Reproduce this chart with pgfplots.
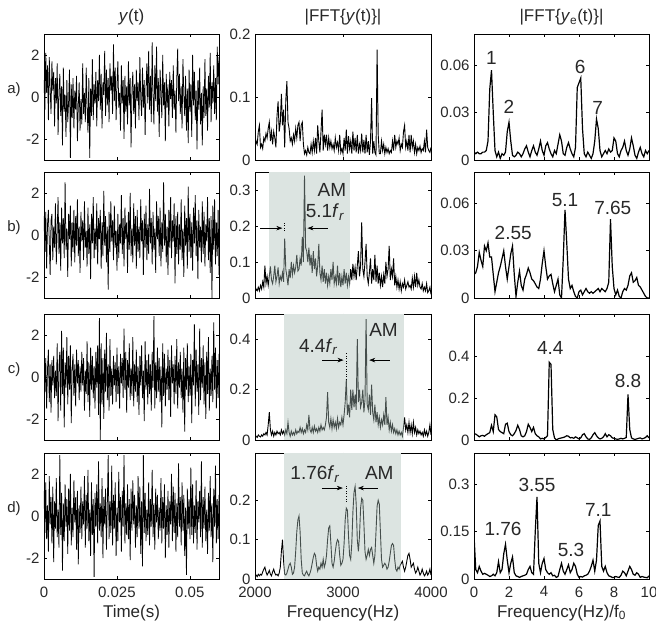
\documentclass[border=0pt]{standalone}
\usepackage{fontspec}
\setmainfont{Liberation Sans}
\usepackage{pgfplots}
\pgfplotsset{compat=1.18}
\usepackage{pgfplotstable}
\usetikzlibrary{arrows.meta}

\newcommand{\fsz}{\fontsize{15pt}{17pt}\selectfont}
\newcommand{\lsz}{\fontsize{17pt}{19pt}\selectfont}
\newcommand{\asz}{\fontsize{19pt}{21pt}\selectfont}
\definecolor{shadebase}{RGB}{231,230,229}
\definecolor{shadetop}{RGB}{200,226,218}
\definecolor{txt}{RGB}{40,40,40}

% time signals y(t), 200 samples over 0..0.06 s
\pgfplotstableread[row sep=\\]{y\\
0.8\\-0.6\\2.1\\0.2\\1.5\\-1.1\\1.9\\0.4\\-0.8\\1.7\\0.3\\1.2\\-1.4\\0.9\\-0.3\\1.6\\-1.8\\0.2\\1.1\\-0.9\\
0.5\\-2.3\\1.4\\-0.7\\0.1\\-1.9\\0.8\\-1.2\\-0.2\\1.3\\-2.9\\0.6\\-1.0\\0.9\\-1.5\\0.3\\-0.6\\1.0\\-2.1\\-0.4\\
0.7\\-1.6\\-0.1\\-1.3\\1.6\\-0.8\\0.2\\-1.2\\1.4\\-0.5\\-1.7\\0.9\\-2.9\\0.4\\-0.9\\1.8\\-1.1\\0.6\\-0.3\\1.2\\
-1.4\\0.8\\-0.2\\2.0\\-0.6\\1.1\\-1.5\\0.7\\0.1\\2.2\\-0.9\\1.3\\-0.4\\0.9\\-1.2\\1.6\\0.3\\1.0\\-0.8\\2.5\\
-0.2\\1.4\\-1.1\\0.6\\1.7\\-0.5\\0.2\\-1.6\\1.5\\-0.3\\0.8\\-2.0\\1.0\\-0.7\\0.5\\-1.3\\1.7\\-0.4\\0.9\\-2.4\\
0.3\\1.2\\-0.8\\0.6\\-1.5\\1.3\\-0.2\\0.7\\-1.1\\1.9\\0.0\\-0.9\\1.4\\-0.5\\0.8\\-1.8\\0.4\\1.6\\-0.3\\2.2\\
-0.6\\1.0\\-1.2\\2.6\\0.1\\-1.3\\1.5\\-0.2\\2.4\\-0.7\\0.9\\-1.9\\1.3\\0.2\\-1.0\\2.0\\-0.4\\0.7\\-2.1\\1.1\\
-0.5\\0.6\\-1.4\\1.2\\-0.1\\0.8\\-1.0\\1.5\\-0.6\\0.3\\-1.7\\0.9\\2.3\\-0.2\\1.1\\-0.8\\0.5\\-1.5\\1.8\\0.1\\
-0.9\\1.0\\-1.6\\0.4\\-2.2\\1.3\\-0.7\\0.6\\-1.9\\2.0\\-0.4\\1.2\\-1.1\\0.3\\-2.5\\0.8\\-0.6\\1.4\\-1.3\\0.2\\
-2.3\\0.5\\-1.0\\1.8\\-0.9\\0.4\\-1.6\\1.0\\-0.5\\2.1\\-1.2\\0.7\\-0.3\\1.5\\-0.8\\0.9\\-1.1\\2.4\\0.6\\1.9\\
}\ta
\pgfplotstableread[row sep=\\]{y\\
0.9\\-0.8\\1.1\\-1.6\\0.5\\1.2\\-0.3\\-1.9\\0.7\\1.0\\-1.2\\0.4\\-0.6\\1.5\\-1.4\\0.2\\1.8\\-0.9\\0.6\\-1.7\\
1.3\\-0.4\\0.8\\-1.1\\2.5\\-0.7\\0.3\\-2.0\\1.0\\-0.2\\1.4\\-1.5\\0.6\\-0.8\\1.2\\-1.3\\0.9\\-0.5\\1.7\\-1.0\\
0.4\\-1.8\\1.1\\-0.3\\0.7\\-1.2\\1.6\\-0.6\\0.2\\-1.5\\1.3\\-0.9\\0.5\\-2.1\\1.0\\-0.4\\1.8\\-1.1\\0.3\\-0.7\\
1.5\\-1.4\\0.8\\-0.2\\1.2\\-1.6\\0.6\\-1.0\\2.1\\-0.5\\0.9\\-1.3\\0.4\\-2.6\\1.1\\-0.8\\1.6\\-0.3\\0.7\\-1.2\\
1.4\\-0.6\\0.2\\-1.7\\1.0\\-1.1\\0.5\\-0.4\\1.9\\-0.9\\0.8\\-1.5\\1.3\\-0.2\\0.6\\-1.8\\1.1\\-0.7\\2.0\\-1.0\\
0.3\\-1.3\\1.5\\-0.5\\0.9\\-1.6\\1.2\\-0.8\\0.4\\-1.1\\1.7\\-0.3\\0.7\\-1.9\\1.0\\-0.6\\1.4\\-1.2\\0.5\\-0.9\\
2.2\\-0.4\\0.8\\-1.4\\1.1\\-0.7\\0.3\\-1.8\\1.6\\-0.2\\0.9\\-1.0\\1.3\\-1.5\\0.6\\-0.8\\2.5\\-0.5\\1.0\\-1.3\\
0.4\\-1.9\\1.2\\-0.6\\1.8\\-1.1\\0.7\\-0.3\\1.5\\-2.3\\0.9\\-0.9\\1.1\\-1.4\\0.5\\-0.7\\1.7\\-1.2\\0.3\\-2.0\\
1.4\\-0.5\\0.8\\-1.6\\2.3\\-0.8\\1.0\\-1.1\\0.6\\-1.7\\1.3\\-0.4\\1.9\\-1.0\\0.7\\-2.1\\1.2\\-0.6\\0.4\\-1.3\\
1.6\\-0.9\\1.1\\-1.5\\0.5\\-0.3\\1.8\\-1.2\\0.8\\-1.8\\0.9\\-3.0\\1.4\\-0.7\\1.7\\-1.4\\0.6\\-1.0\\1.2\\-1.9\\
}\tb
\pgfplotstableread[row sep=\\]{y\\
1.1\\-0.7\\0.9\\-1.5\\0.4\\1.3\\-1.2\\0.6\\-1.7\\0.8\\-0.4\\1.0\\-1.0\\0.3\\-0.9\\1.6\\-2.1\\0.5\\1.2\\-1.6\\
2.2\\-0.8\\1.4\\-2.4\\0.7\\-0.5\\1.9\\-1.3\\1.0\\-0.6\\1.5\\-2.2\\0.4\\1.1\\-0.9\\0.6\\-1.4\\1.3\\-0.3\\0.8\\
-1.1\\0.5\\-0.7\\1.2\\-0.4\\0.9\\-1.6\\0.3\\-0.8\\1.7\\-1.2\\0.7\\-1.9\\1.4\\-0.6\\1.0\\-1.0\\0.5\\-1.5\\1.2\\
-0.5\\1.5\\-1.8\\2.8\\-3.0\\1.6\\-1.3\\0.9\\-2.0\\1.3\\-0.7\\2.1\\-1.1\\0.6\\-1.6\\1.8\\-0.9\\0.4\\-1.3\\1.0\\
-0.4\\0.7\\-1.2\\1.4\\-0.8\\0.5\\-1.5\\1.1\\-0.3\\0.9\\-1.0\\2.3\\-0.6\\1.2\\-1.7\\0.8\\-0.5\\1.6\\-1.1\\0.4\\
-0.9\\1.9\\-1.4\\0.6\\-0.7\\1.3\\-1.2\\0.5\\-1.8\\1.0\\-0.4\\1.5\\-1.0\\0.3\\-2.1\\1.7\\-0.6\\0.8\\-1.3\\1.1\\
-0.8\\0.6\\-1.6\\1.2\\-0.5\\2.9\\-1.5\\0.7\\-1.0\\1.4\\-0.7\\0.9\\-1.2\\0.5\\-2.4\\1.6\\-0.9\\1.1\\-1.4\\0.4\\
-0.6\\1.3\\-1.1\\0.8\\-1.9\\1.5\\-0.3\\0.6\\-1.3\\1.0\\-0.8\\1.8\\-1.5\\0.7\\-0.5\\1.2\\-1.0\\0.4\\-1.7\\1.4\\
-2.6\\0.9\\-0.6\\1.6\\-1.2\\0.5\\-0.9\\1.1\\-2.2\\0.8\\-0.4\\2.5\\-1.4\\1.3\\-0.7\\0.6\\-1.8\\2.3\\-1.1\\0.9\\
-0.5\\1.5\\-1.3\\0.7\\-2.0\\1.2\\-0.8\\1.9\\-1.6\\0.4\\-0.9\\1.0\\-1.2\\2.6\\-0.6\\1.4\\-1.5\\0.8\\-1.0\\1.1\\
}\tc
\pgfplotstableread[row sep=\\]{y\\
1.2\\-0.8\\1.6\\-1.1\\0.5\\-1.7\\1.9\\-0.4\\0.9\\-1.3\\1.4\\-2.2\\0.7\\-0.6\\1.8\\-1.0\\0.3\\-1.5\\2.9\\-0.9\\
1.1\\-2.6\\0.6\\-1.2\\1.5\\-0.5\\0.8\\-1.8\\1.3\\-0.7\\2.0\\-1.4\\0.4\\-1.0\\1.7\\-0.3\\0.9\\-1.6\\1.2\\-2.3\\
0.5\\-0.8\\1.4\\-1.1\\0.7\\-0.4\\1.9\\-1.5\\1.0\\-0.6\\2.2\\-1.2\\0.3\\-1.9\\1.6\\-0.9\\0.8\\-2.9\\1.1\\-0.5\\
1.5\\-1.3\\2.6\\-0.7\\0.6\\-1.0\\1.8\\-2.0\\0.9\\-0.4\\1.3\\-1.6\\0.5\\2.9\\-1.1\\0.7\\-0.8\\2.4\\-1.4\\1.0\\
-0.6\\1.6\\-1.9\\0.4\\-1.2\\2.1\\-0.3\\0.9\\-1.7\\1.2\\-0.5\\2.9\\-1.3\\0.6\\-0.9\\1.5\\-1.1\\0.8\\-2.1\\1.3\\
-0.7\\1.7\\-0.4\\1.0\\-1.5\\0.5\\-1.0\\1.9\\-0.6\\1.4\\-1.8\\0.7\\-2.4\\2.9\\-0.8\\1.1\\-1.2\\0.3\\-0.9\\1.6\\
-1.4\\0.8\\-0.5\\2.2\\-1.0\\0.6\\-1.6\\1.3\\-0.3\\1.0\\-1.1\\0.4\\-0.7\\1.8\\-1.3\\0.9\\-0.6\\1.5\\-2.0\\0.5\\
-0.9\\1.2\\-1.5\\0.7\\-0.4\\2.0\\-1.2\\1.4\\-0.8\\1.1\\-1.7\\0.6\\-1.0\\2.5\\-0.5\\0.9\\-1.4\\1.6\\-0.7\\1.0\\
-1.9\\0.4\\-2.8\\1.3\\-0.6\\0.8\\-1.1\\2.3\\-0.9\\1.5\\-1.3\\0.5\\-0.8\\1.7\\-1.6\\0.7\\-0.3\\1.2\\-1.0\\2.6\\
-1.5\\0.9\\-0.6\\1.4\\-1.2\\0.3\\-1.8\\1.1\\-0.7\\1.9\\-1.0\\0.6\\-2.2\\1.3\\-0.5\\2.4\\-1.3\\0.8\\-1.1\\1.0\\
}\td

% |FFT{y(t)}|, 161 bins over 2000..4000 Hz
\pgfplotstableread[row sep=\\]{y\\
0.020\\0.030\\0.025\\0.045\\0.055\\0.020\\0.025\\0.018\\0.035\\0.030\\
0.042\\0.035\\0.050\\0.060\\0.030\\0.045\\0.025\\0.045\\0.035\\0.020\\
0.070\\0.093\\0.045\\0.060\\0.105\\0.055\\0.080\\0.020\\0.095\\0.125\\
0.060\\0.050\\0.030\\0.035\\0.025\\0.040\\0.030\\0.050\\0.035\\0.055\\
0.060\\0.030\\0.055\\0.060\\0.025\\0.010\\0.015\\0.008\\0.020\\0.012\\
0.010\\0.025\\0.012\\0.030\\0.015\\0.035\\0.010\\0.055\\0.030\\0.012\\
0.045\\0.080\\0.015\\0.040\\0.025\\0.040\\0.015\\0.035\\0.020\\0.030\\
0.018\\0.025\\0.015\\0.035\\0.020\\0.028\\0.015\\0.040\\0.012\\0.018\\
0.010\\0.035\\0.015\\0.048\\0.010\\0.038\\0.018\\0.030\\0.010\\0.045\\
0.015\\0.035\\0.012\\0.040\\0.010\\0.025\\0.015\\0.042\\0.012\\0.032\\
0.010\\0.040\\0.012\\0.030\\0.008\\0.030\\0.098\\0.010\\0.030\\0.012\\
0.008\\0.175\\0.040\\0.010\\0.010\\0.030\\0.015\\0.025\\0.010\\0.020\\
0.012\\0.018\\0.010\\0.015\\0.012\\0.030\\0.015\\0.040\\0.020\\0.030\\
0.025\\0.035\\0.015\\0.025\\0.020\\0.045\\0.055\\0.020\\0.030\\0.015\\
0.040\\0.012\\0.040\\0.020\\0.030\\0.012\\0.025\\0.010\\0.020\\0.015\\
0.022\\0.012\\0.018\\0.015\\0.030\\0.012\\0.048\\0.020\\0.015\\0.012\\
0.020\\
}\fa
\pgfplotstableread[row sep=\\]{y\\
0.015\\0.025\\0.020\\0.030\\0.020\\0.035\\0.025\\0.045\\0.030\\0.090\\
0.040\\0.060\\0.035\\0.060\\0.088\\0.050\\0.040\\0.060\\0.090\\0.045\\
0.060\\0.085\\0.040\\0.060\\0.050\\0.070\\0.045\\0.165\\0.080\\0.060\\
0.035\\0.080\\0.055\\0.100\\0.065\\0.090\\0.070\\0.085\\0.120\\0.075\\
0.080\\0.110\\0.090\\0.170\\0.100\\0.340\\0.140\\0.130\\0.100\\0.140\\
0.090\\0.120\\0.070\\0.130\\0.080\\0.110\\0.060\\0.090\\0.150\\0.070\\
0.050\\0.090\\0.045\\0.080\\0.040\\0.070\\0.035\\0.060\\0.040\\0.080\\
0.050\\0.100\\0.040\\0.060\\0.040\\0.090\\0.035\\0.070\\0.030\\0.060\\
0.035\\0.080\\0.040\\0.070\\0.035\\0.060\\0.040\\0.080\\0.050\\0.095\\
0.060\\0.085\\0.050\\0.090\\0.130\\0.060\\0.090\\0.210\\0.080\\0.060\\
0.100\\0.150\\0.060\\0.040\\0.070\\0.110\\0.040\\0.080\\0.050\\0.120\\
0.045\\0.090\\0.040\\0.070\\0.035\\0.060\\0.030\\0.065\\0.040\\0.100\\
0.060\\0.080\\0.145\\0.050\\0.080\\0.060\\0.110\\0.035\\0.060\\0.030\\
0.050\\0.025\\0.045\\0.020\\0.040\\0.030\\0.050\\0.025\\0.035\\0.045\\
0.030\\0.035\\0.025\\0.055\\0.030\\0.060\\0.030\\0.070\\0.035\\0.050\\
0.030\\0.025\\0.040\\0.020\\0.030\\0.020\\0.040\\0.015\\0.020\\0.030\\
0.010\\
}\fb
\pgfplotstableread[row sep=\\]{y\\
0.010\\0.015\\0.010\\0.020\\0.015\\0.012\\0.020\\0.015\\0.025\\0.020\\
0.030\\0.020\\0.060\\0.110\\0.040\\0.020\\0.035\\0.015\\0.030\\0.020\\
0.035\\0.025\\0.030\\0.020\\0.040\\0.025\\0.035\\0.020\\0.040\\0.025\\
0.070\\0.030\\0.015\\0.035\\0.020\\0.030\\0.020\\0.040\\0.025\\0.035\\
0.030\\0.050\\0.030\\0.045\\0.025\\0.040\\0.030\\0.060\\0.040\\0.100\\
0.040\\0.030\\0.050\\0.030\\0.055\\0.035\\0.045\\0.030\\0.050\\0.035\\
0.060\\0.040\\0.050\\0.040\\0.060\\0.090\\0.190\\0.070\\0.050\\0.085\\
0.045\\0.080\\0.050\\0.070\\0.045\\0.085\\0.050\\0.070\\0.060\\0.090\\
0.060\\0.100\\0.150\\0.240\\0.100\\0.140\\0.090\\0.200\\0.120\\0.200\\
0.130\\0.180\\0.120\\0.400\\0.150\\0.200\\0.130\\0.150\\0.200\\0.110\\
0.160\\0.480\\0.140\\0.120\\0.180\\0.100\\0.220\\0.110\\0.080\\0.140\\
0.070\\0.110\\0.060\\0.090\\0.050\\0.080\\0.060\\0.100\\0.060\\0.170\\
0.060\\0.090\\0.040\\0.070\\0.035\\0.060\\0.030\\0.045\\0.025\\0.040\\
0.020\\0.035\\0.020\\0.030\\0.015\\0.050\\0.090\\0.040\\0.060\\0.030\\
0.070\\0.030\\0.060\\0.025\\0.070\\0.030\\0.050\\0.020\\0.040\\0.025\\
0.035\\0.020\\0.030\\0.015\\0.040\\0.020\\0.035\\0.015\\0.030\\0.060\\
0.020\\
}\fc
\pgfplotstableread[row sep=\\]{y\\
0.008\\0.010\\0.006\\0.012\\0.008\\0.012\\0.010\\0.018\\0.025\\0.030\\
0.018\\0.010\\0.015\\0.022\\0.012\\0.008\\0.018\\0.025\\0.015\\0.010\\
0.012\\0.008\\0.015\\0.030\\0.070\\0.100\\0.045\\0.012\\0.010\\0.015\\
0.025\\0.035\\0.040\\0.030\\0.012\\0.015\\0.030\\0.070\\0.120\\0.150\\
0.160\\0.120\\0.050\\0.015\\0.010\\0.008\\0.015\\0.020\\0.012\\0.008\\
0.015\\0.025\\0.040\\0.055\\0.065\\0.060\\0.035\\0.020\\0.030\\0.025\\
0.040\\0.030\\0.050\\0.030\\0.040\\0.060\\0.100\\0.130\\0.135\\0.090\\
0.040\\0.030\\0.045\\0.070\\0.090\\0.100\\0.095\\0.060\\0.035\\0.040\\
0.050\\0.090\\0.150\\0.180\\0.175\\0.110\\0.060\\0.050\\0.090\\0.170\\
0.220\\0.235\\0.190\\0.100\\0.070\\0.110\\0.180\\0.205\\0.200\\0.140\\
0.070\\0.050\\0.060\\0.075\\0.060\\0.075\\0.080\\0.060\\0.040\\0.060\\
0.120\\0.185\\0.200\\0.190\\0.120\\0.050\\0.030\\0.035\\0.040\\0.035\\
0.025\\0.030\\0.045\\0.065\\0.085\\0.090\\0.085\\0.050\\0.025\\0.020\\
0.030\\0.025\\0.035\\0.040\\0.045\\0.030\\0.020\\0.030\\0.045\\0.060\\
0.065\\0.050\\0.030\\0.035\\0.040\\0.025\\0.015\\0.020\\0.030\\0.020\\
0.010\\0.015\\0.025\\0.015\\0.008\\0.012\\0.020\\0.010\\0.015\\0.025\\
0.010\\
}\fd

% |FFT{y_e(t)}|, 101 bins over 0..10 (f/f0)
\pgfplotstableread[row sep=\\]{y\\
0.005\\0.004\\0.005\\0.004\\0.004\\0.005\\0.005\\0.006\\0.012\\0.045\\
0.057\\0.030\\0.006\\0.002\\0.005\\0.001\\0.004\\0.003\\0.005\\0.018\\
0.024\\0.012\\0.003\\0.002\\0.003\\0.005\\0.004\\0.002\\0.004\\0.007\\
0.009\\0.005\\0.002\\0.006\\0.009\\0.005\\0.003\\0.007\\0.012\\0.006\\
0.003\\0.009\\0.011\\0.007\\0.004\\0.002\\0.006\\0.004\\0.010\\0.016\\
0.012\\0.004\\0.003\\0.008\\0.011\\0.007\\0.004\\0.002\\0.008\\0.046\\
0.049\\0.052\\0.020\\0.004\\0.002\\0.005\\0.003\\0.001\\0.004\\0.012\\
0.026\\0.020\\0.006\\0.002\\0.004\\0.006\\0.004\\0.007\\0.005\\0.006\\
0.014\\0.012\\0.004\\0.002\\0.006\\0.008\\0.012\\0.006\\0.003\\0.007\\
0.014\\0.009\\0.003\\0.001\\0.005\\0.008\\0.004\\0.002\\0.006\\0.004\\
0.006\\
}\ea
\pgfplotstableread[row sep=\\]{y\\
0.015\\0.016\\0.020\\0.029\\0.024\\0.020\\0.033\\0.030\\0.035\\0.026\\
0.026\\0.015\\0.004\\0.010\\0.016\\0.020\\0.025\\0.030\\0.020\\0.012\\
0.020\\0.028\\0.033\\0.015\\0.001\\0.010\\0.017\\0.008\\0.005\\0.012\\
0.015\\0.019\\0.016\\0.012\\0.011\\0.009\\0.007\\0.006\\0.012\\0.022\\
0.030\\0.020\\0.012\\0.014\\0.015\\0.009\\0.004\\0.008\\0.012\\0.002\\
0.000\\0.025\\0.056\\0.035\\0.012\\0.006\\0.008\\0.004\\0.001\\0.000\\
0.004\\0.005\\0.002\\0.004\\0.006\\0.004\\0.003\\0.004\\0.003\\0.004\\
0.005\\0.006\\0.004\\0.006\\0.005\\0.004\\0.006\\0.010\\0.050\\0.020\\
0.006\\0.002\\0.005\\0.001\\0.000\\0.004\\0.006\\0.005\\0.008\\0.014\\
0.016\\0.010\\0.011\\0.013\\0.008\\0.007\\0.005\\0.003\\0.001\\0.000\\
0.000\\
}\eb
\pgfplotstableread[row sep=\\]{y\\
0.030\\0.028\\0.022\\0.015\\0.020\\0.022\\0.018\\0.025\\0.030\\0.035\\
0.070\\0.040\\0.120\\0.110\\0.050\\0.040\\0.035\\0.030\\0.075\\0.080\\
0.040\\0.025\\0.020\\0.030\\0.045\\0.070\\0.050\\0.020\\0.015\\0.020\\
0.040\\0.075\\0.060\\0.040\\0.060\\0.030\\0.020\\0.015\\0.005\\0.008\\
0.005\\0.012\\0.020\\0.370\\0.360\\0.050\\0.010\\0.000\\0.005\\0.008\\
0.010\\0.012\\0.015\\0.020\\0.018\\0.010\\0.012\\0.008\\0.015\\0.010\\
0.005\\0.010\\0.025\\0.030\\0.015\\0.005\\0.003\\0.010\\0.025\\0.035\\
0.020\\0.010\\0.005\\0.008\\0.015\\0.030\\0.015\\0.025\\0.020\\0.010\\
0.008\\0.005\\0.003\\0.005\\0.008\\0.005\\0.008\\0.012\\0.217\\0.050\\
0.010\\0.005\\0.003\\0.005\\0.008\\0.010\\0.005\\0.008\\0.012\\0.020\\
0.010\\
}\ec
\pgfplotstableread[row sep=\\]{y\\
0.140\\0.030\\0.020\\0.040\\0.025\\0.015\\0.018\\0.015\\0.012\\0.008\\
0.010\\0.015\\0.010\\0.020\\0.055\\0.020\\0.030\\0.080\\0.110\\0.060\\
0.020\\0.050\\0.070\\0.020\\0.010\\0.008\\0.005\\0.008\\0.010\\0.012\\
0.015\\0.030\\0.040\\0.020\\0.015\\0.150\\0.261\\0.050\\0.020\\0.050\\
0.065\\0.030\\0.020\\0.015\\0.020\\0.010\\0.012\\0.005\\0.008\\0.030\\
0.050\\0.025\\0.015\\0.030\\0.045\\0.020\\0.030\\0.050\\0.040\\0.015\\
0.005\\0.008\\0.006\\0.010\\0.012\\0.015\\0.025\\0.040\\0.060\\0.025\\
0.060\\0.170\\0.184\\0.040\\0.025\\0.040\\0.020\\0.010\\0.008\\0.005\\
0.005\\0.008\\0.006\\0.005\\0.012\\0.025\\0.020\\0.010\\0.025\\0.040\\
0.030\\0.015\\0.012\\0.020\\0.015\\0.005\\0.008\\0.006\\0.005\\0.004\\
0.010\\
}\ed

\tikzset{
  ann/.style={font=\asz, text=txt},
  arr/.style={-{Stealth[length=6pt,width=4.5pt]}, line width=0.6pt},
}
\pgfplotsset{
  panel/.style={scale only axis, width=175pt, height=126pt, anchor=south west,
    scaled ticks=false,
    tick align=inside, tick pos=both, major tick length=3pt,
    axis line style={line width=0.7pt},
    every tick/.append style={black, line width=0.5pt},
    clip mode=individual,
    tick label style={font=\fsz, text=txt},
    xticklabel style={yshift=-4pt},
    yticklabel style={xshift=-1pt},
    label style={font=\lsz, text=txt},
    xlabel style={yshift=-1pt},
    title style={font=\lsz, text=txt, yshift=-1pt}},
  c1/.style={panel, xmin=0, xmax=0.06, ymin=-3, ymax=3,
    xtick={0,0.025,0.05}, xticklabels={}, ytick={-2,0,2}, yticklabels={-2,0,2}},
  c2/.style={panel, width=176pt, xmin=2000, xmax=4000, ymin=0,
    xtick={2000,3000,4000}, xticklabels={}},
  c3/.style={panel, xmin=0, xmax=10, ymin=0,
    xtick={0,2,4,6,8,10}, xticklabels={}},
  sig/.style={black, line width=0.75pt},
  sp/.style={black, line width=0.9pt},
  se/.style={black, line width=1.2pt},
}

\begin{document}
\begin{tikzpicture}
\useasboundingbox (0pt,0pt) rectangle (656pt,628pt);

% ---------- column 1: y(t)
\begin{axis}[c1, at={(44pt,468pt)}, title={\textit{y}(t)}]
  \addplot[sig] table[x expr=\coordindex*0.00030151, y=y]{\ta};
  \node[font=\fsz, text=txt] at (axis description cs:0,0.5) [xshift=-30pt,yshift=7pt] {a)};
\end{axis}
\begin{axis}[c1, at={(44pt,330pt)}]
  \addplot[sig] table[x expr=\coordindex*0.00030151, y=y]{\tb};
  \node[font=\fsz, text=txt] at (axis description cs:0,0.5) [xshift=-30pt,yshift=7pt] {b)};
\end{axis}
\begin{axis}[c1, at={(44pt,188pt)}]
  \addplot[sig] table[x expr=\coordindex*0.00030151, y=y]{\tc};
  \node[font=\fsz, text=txt] at (axis description cs:0,0.5) [xshift=-30pt,yshift=7pt] {c)};
\end{axis}
\begin{axis}[c1, at={(44pt,49pt)}, xticklabels={0,0.025,0.05}, xlabel={Time(s)}]
  \addplot[sig] table[x expr=\coordindex*0.00030151, y=y]{\td};
  \node[font=\fsz, text=txt] at (axis description cs:0,0.5) [xshift=-30pt,yshift=7pt] {d)};
\end{axis}

% ---------- column 2: |FFT{y(t)}|
\begin{axis}[c2, at={(255pt,468pt)}, ymax=0.2, ytick={0,0.1,0.2}, yticklabels={0,0.1,0.2},
    title={|FFT\{\textit{y}(t)\}|}]
  \addplot[sp] table[x expr=2000+\coordindex*12.5, y=y]{\fa};
\end{axis}
\begin{axis}[c2, at={(255pt,330pt)}, ymax=0.35, ytick={0,0.1,0.2,0.3}, yticklabels={0,0.1,0.2,0.3}]
  \fill[shadebase] (axis cs:2160,0) rectangle (axis cs:3080,0.35);
  \addplot[sp] table[x expr=2000+\coordindex*12.5, y=y]{\fb};
  \fill[shadetop, fill opacity=0.35] (axis cs:2160,0) rectangle (axis cs:3080,0.35);
  \node[ann] at (axis cs:2873,0.300) {AM};
  \node[ann] at (axis cs:2797,0.239) {5.1\textit{f}\textsubscript{\textit{r}}};
  \draw[arr] (axis cs:2060,0.194) -- (axis cs:2311,0.194);
  \draw[arr] (axis cs:2825,0.194) -- (axis cs:2596,0.194);
  \draw[dotted, line width=0.6pt] (axis cs:2334,0.186) -- (axis cs:2334,0.212);
\end{axis}
\begin{axis}[c2, at={(255pt,188pt)}, ymax=0.5, ytick={0,0.2,0.4}, yticklabels={0,0.2,0.4}]
  \fill[shadebase] (axis cs:2330,0) rectangle (axis cs:3690,0.5);
  \addplot[sp] table[x expr=2000+\coordindex*12.5, y=y]{\fc};
  \fill[shadetop, fill opacity=0.35] (axis cs:2330,0) rectangle (axis cs:3690,0.5);
  \node[ann] at (axis cs:3461,0.436) {AM};
  \node[ann] at (axis cs:2721,0.370) {4.4\textit{f}\textsubscript{\textit{r}}};
  \draw[arr] (axis cs:2765,0.317) -- (axis cs:3006,0.317);
  \draw[arr] (axis cs:3530,0.317) -- (axis cs:3298,0.317);
  \draw[dotted, line width=0.6pt] (axis cs:3036,0.24) -- (axis cs:3036,0.35);
\end{axis}
\begin{axis}[c2, at={(255pt,49pt)}, ymax=0.32, ytick={0,0.1,0.2}, yticklabels={0,0.1,0.2},
    xticklabels={2000,3000,4000}, xlabel={Frequency(Hz)}]
  \fill[shadebase] (axis cs:2330,0) rectangle (axis cs:3660,0.32);
  \addplot[sp] table[x expr=2000+\coordindex*12.5, y=y]{\fd};
  \fill[shadetop, fill opacity=0.35] (axis cs:2330,0) rectangle (axis cs:3660,0.32);
  \node[ann] at (axis cs:2683,0.267) {1.76\textit{f}\textsubscript{\textit{r}}};
  \node[ann] at (axis cs:3412,0.270) {AM};
  \draw[arr] (axis cs:2760,0.231) -- (axis cs:2998,0.231);
  \draw[arr] (axis cs:3395,0.231) -- (axis cs:3169,0.231);
  \draw[dotted, line width=0.6pt] (axis cs:3032,0.196) -- (axis cs:3032,0.242);
\end{axis}

% ---------- column 3: |FFT{y_e(t)}|
\begin{axis}[c3, at={(474pt,468pt)}, ymax=0.08, ytick={0,0.03,0.06}, yticklabels={0,0.03,0.06},
    title={|FFT\{\textit{y}\textsubscript{e}(t)\}|}]
  \addplot[se] table[x expr=\coordindex*0.1, y=y]{\ea};
  \node[ann] at (axis cs:1.0,0.0645) {1};
  \node[ann] at (axis cs:2.0,0.0336) {2};
  \node[ann] at (axis cs:6.06,0.059) {6};
  \node[ann] at (axis cs:7.07,0.033) {7};
\end{axis}
\begin{axis}[c3, at={(474pt,330pt)}, ymax=0.08, ytick={0,0.03,0.06}, yticklabels={0,0.03,0.06}]
  \addplot[se] table[x expr=\coordindex*0.1, y=y]{\eb};
  \node[ann] at (axis cs:2.24,0.041) {2.55};
  \node[ann] at (axis cs:5.2,0.0623) {5.1};
  \node[ann] at (axis cs:7.93,0.057) {7.65};
\end{axis}
\begin{axis}[c3, at={(474pt,188pt)}, ymax=0.6, ytick={0,0.2,0.4}, yticklabels={0,0.2,0.4}]
  \addplot[se] table[x expr=\coordindex*0.1, y=y]{\ec};
  \node[ann] at (axis cs:4.36,0.437) {4.4};
  \node[ann] at (axis cs:8.8,0.28) {8.8};
\end{axis}
\begin{axis}[c3, at={(474pt,49pt)}, ymax=0.4, ytick={0,0.15,0.3}, yticklabels={0,0.15,0.3},
    xticklabels={0,2,4,6,8,10}, xlabel={Frequency(Hz)/f\textsubscript{0}}]
  \addplot[se] table[x expr=\coordindex*0.1, y=y]{\ed};
  \node[ann] at (axis cs:1.66,0.158) {1.76};
  \node[ann] at (axis cs:3.6,0.298) {3.55};
  \node[ann] at (axis cs:5.54,0.092) {5.3};
  \node[ann] at (axis cs:7.1,0.219) {7.1};
\end{axis}
\end{tikzpicture}
\end{document}
